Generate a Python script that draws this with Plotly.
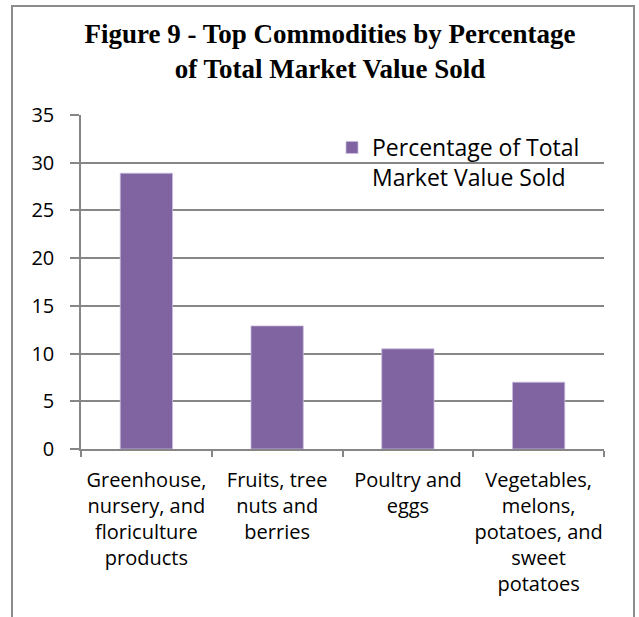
import plotly.graph_objects as go

# Commodity categories (multi-line tick labels) and their share of market value
categories = [
    "Greenhouse,<br>nursery, and<br>floriculture<br>products",
    "Fruits, tree<br>nuts and<br>berries",
    "Poultry and<br>eggs",
    "Vegetables,<br>melons,<br>potatoes, and<br>sweet<br>potatoes",
]
percentages = [28.9, 12.9, 10.5, 7.0]
y_ticks = [0, 5, 10, 15, 20, 25, 30, 35]

series_name = "Percentage of Total<br>Market Value Sold"
title_text = "Figure 9 - Top Commodities by Percentage<br>of Total Market Value Sold"

BAR_COLOR = "#8064A2"
GRID_COLOR = "#868686"
LABEL_FONT = "Open Sans"

fig = go.Figure()
fig.add_trace(
    go.Bar(
        x=categories,
        y=percentages,
        name=series_name,
        marker=dict(color=BAR_COLOR, line=dict(color="#C9BCDD", width=0.8)),
        showlegend=True,
    )
)

W, H = 639, 617
L, R, T, B = 81, 35, 115, 168
plot_w = W - L - R
plot_h = H - T - B


def px_to_paper_x(px):
    return (px - L) / plot_w


def px_to_paper_y(py):
    return (H - B - py) / plot_h


fig.update_layout(
    width=W,
    height=H,
    margin=dict(l=L, r=R, t=T, b=B, autoexpand=False),
    paper_bgcolor="white",
    plot_bgcolor="white",
    font=dict(family=LABEL_FONT, size=20, color="#000000"),
    bargap=0.6,
    title=dict(
        text=title_text,
        font=dict(family="Liberation Serif", size=27, color="#000000", weight="bold"),
        x=330 / W,
        xanchor="center",
        xref="container",
        y=1 - 43 / H,
        yanchor="top",
        yref="container",
    ),
    legend=dict(
        x=px_to_paper_x(332),
        xanchor="left",
        y=px_to_paper_y(126),
        yanchor="top",
        bgcolor="rgba(0,0,0,0)",
        font=dict(family=LABEL_FONT, size=23, color="#000000"),
        valign="top",
        borderwidth=0,
    ),
    xaxis=dict(
        showline=True,
        linecolor=GRID_COLOR,
        linewidth=1.5,
        ticks="outside",
        ticklen=6,
        tickcolor=GRID_COLOR,
        tickwidth=1.5,
        tickson="boundaries",
        tickangle=0,
        ticklabelstandoff=12,
        showgrid=False,
        tickfont=dict(family=LABEL_FONT, size=20, color="#000000"),
        fixedrange=True,
    ),
    yaxis=dict(
        range=[0, 35],
        tickvals=y_ticks,
        showline=True,
        linecolor=GRID_COLOR,
        linewidth=1.5,
        ticks="outside",
        ticklen=9,
        tickcolor=GRID_COLOR,
        tickwidth=1.5,
        showgrid=True,
        gridcolor=GRID_COLOR,
        gridwidth=1.5,
        zeroline=False,
        ticklabelstandoff=12,
        tickfont=dict(family=LABEL_FONT, size=20, color="#000000"),
        fixedrange=True,
    ),
    shapes=[
        dict(
            type="rect",
            xref="paper",
            yref="paper",
            x0=px_to_paper_x(12),
            x1=px_to_paper_x(634),
            y0=px_to_paper_y(660),
            y1=px_to_paper_y(6),
            line=dict(color="#8C8C8C", width=2),
            fillcolor="rgba(0,0,0,0)",
            layer="below",
        )
    ],
)

fig.write_html("out.html")
